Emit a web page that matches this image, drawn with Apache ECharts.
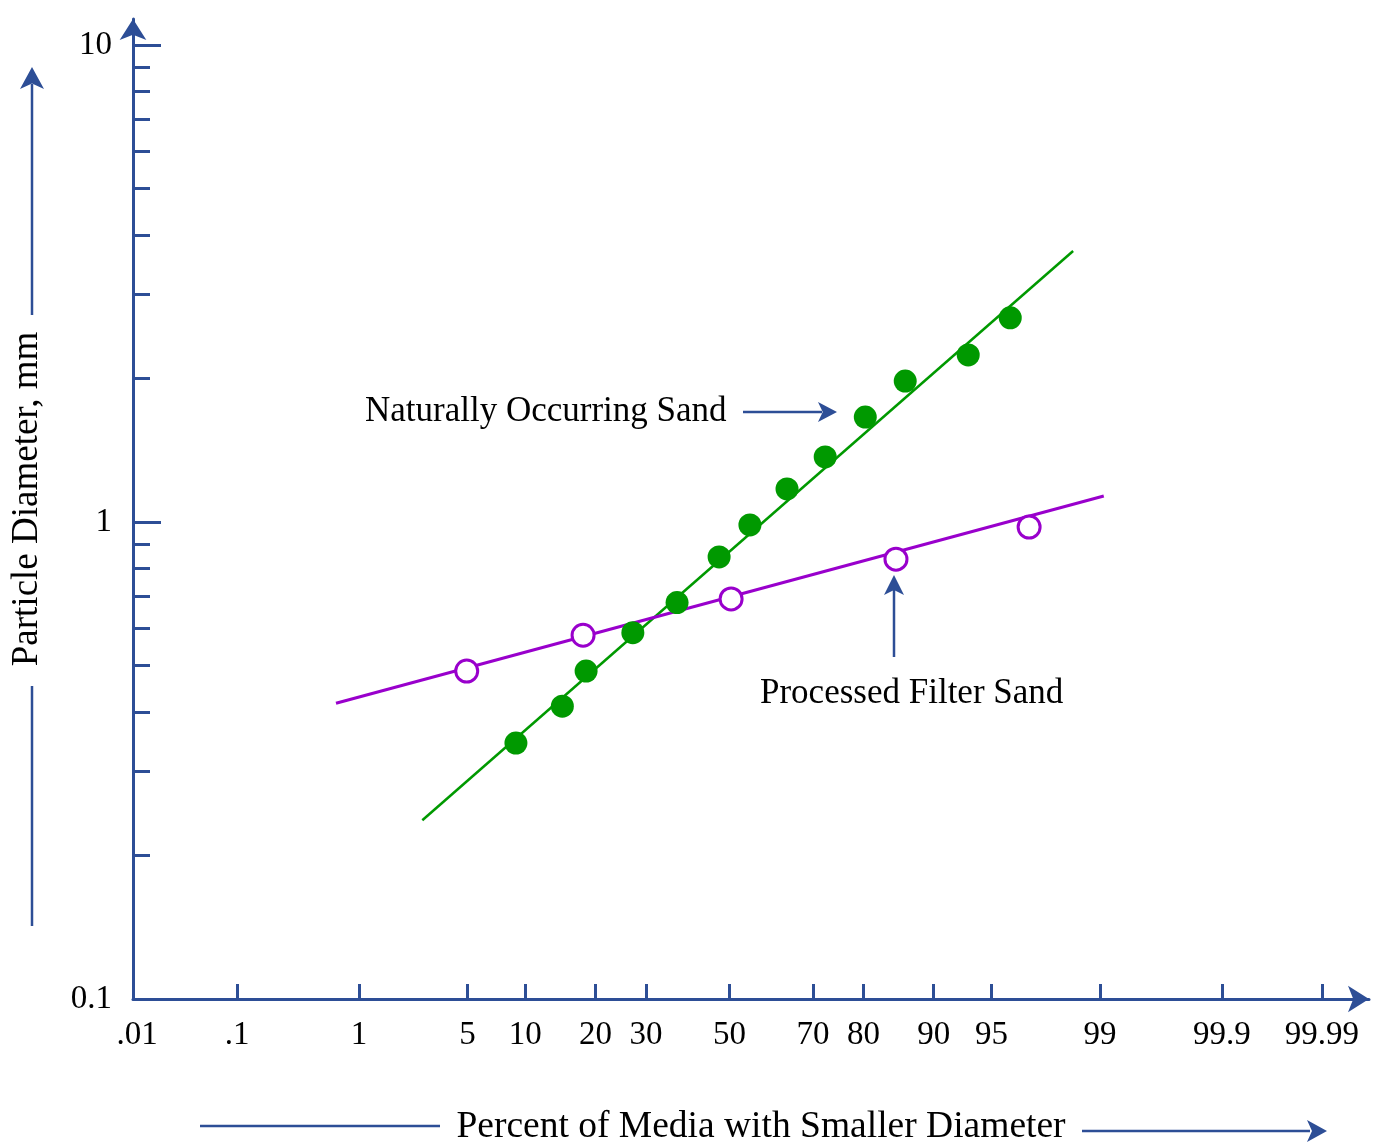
<!DOCTYPE html>
<html><head><meta charset="utf-8">
<script src="https://cdn.jsdelivr.net/npm/echarts@6/dist/echarts.min.js"></script>
<style>html,body{margin:0;padding:0;background:#fff}#c{width:1386px;height:1146px}</style>
</head><body><div id="c"></div>
<script>
// ---- data (percent finer, particle diameter mm) ----
const xTickPercents = [0.1, 1, 5, 10, 20, 30, 50, 70, 80, 90, 95, 99, 99.9, 99.99];
const xLabelPercents = [0.01, 0.1, 1, 5, 10, 20, 30, 50, 70, 80, 90, 95, 99, 99.9, 99.99];
const xLabelTexts = ['.01', '.1', '1', '5', '10', '20', '30', '50', '70', '80', '90', '95', '99', '99.9', '99.99'];
const yMajorTicks = [0.1, 1, 10];
const yMajorLabels = ['0.1', '1', '10'];
const yMinorTicks = [0.2, 0.3, 0.4, 0.5, 0.6, 0.7, 0.8, 0.9, 2, 3, 4, 5, 6, 7, 8, 9];

const naturalPercent = [9.0, 14.7, 18.4, 27.2, 37.1, 47.4, 55.1, 64.1, 72.6, 80.3, 86.5, 93.3, 96.1];
const naturalDiameter = [0.344, 0.411, 0.487, 0.586, 0.678, 0.845, 0.986, 1.173, 1.369, 1.66, 1.975, 2.24, 2.68];
const naturalFitPercent = [2.69, 98.45];
const naturalFitDiameter = [0.237, 3.70];

const filterPercent = [4.95, 17.9, 50.4, 85.2, 97.0];
const filterDiameter = [0.487, 0.579, 0.690, 0.836, 0.976];
const filterFitPercent = [0.675, 99.06];
const filterFitDiameter = [0.417, 1.134];

// ---- normal probability scale transform (inverse normal CDF, Acklam) ----
function probit(p) {
  const a = [-3.969683028665376e+01, 2.209460984245205e+02, -2.759285104469687e+02, 1.383577518672690e+02, -3.066479806614716e+01, 2.506628277459239e+00];
  const b = [-5.447609879822406e+01, 1.615858368580409e+02, -1.556989798598866e+02, 6.680131188771972e+01, -1.328068155288572e+01];
  const c = [-7.784894002430293e-03, -3.223964580411365e-01, -2.400758277161838e+00, -2.549732539343734e+00, 4.374664141464968e+00, 2.938163982698783e+00];
  const d = [7.784695709041462e-03, 3.224671290700398e-01, 2.445134137142996e+00, 3.754408661907416e+00];
  const pl = 0.02425, ph = 1 - pl;
  let q, r;
  if (p < pl) {
    q = Math.sqrt(-2 * Math.log(p));
    return (((((c[0]*q+c[1])*q+c[2])*q+c[3])*q+c[4])*q+c[5]) / ((((d[0]*q+d[1])*q+d[2])*q+d[3])*q+1);
  }
  if (p <= ph) {
    q = p - 0.5; r = q * q;
    return (((((a[0]*r+a[1])*r+a[2])*r+a[3])*r+a[4])*r+a[5])*q / (((((b[0]*r+b[1])*r+b[2])*r+b[3])*r+b[4])*r+1);
  }
  q = Math.sqrt(-2 * Math.log(1 - p));
  return -(((((c[0]*q+c[1])*q+c[2])*q+c[3])*q+c[4])*q+c[5]) / ((((d[0]*q+d[1])*q+d[2])*q+d[3])*q+1);
}
const Z = pct => probit(pct / 100);
const pairs = (ps, ds) => ps.map((p, i) => [Z(p), ds[i]]);

const AX = '#2d4e96';
const GREEN = '#009900';
const PURPLE = '#9900cc';
const FONT = '"Liberation Serif", "Times New Roman", serif';

const xLabelZ = xLabelPercents.map(Z);
function xFmt(v) {
  for (let i = 0; i < xLabelZ.length; i++) if (Math.abs(xLabelZ[i] - v) < 1e-6) return xLabelTexts[i];
  return '';
}
function yFmt(v) {
  for (let i = 0; i < yMajorTicks.length; i++) if (Math.abs(yMajorTicks[i] - v) < 1e-9 * Math.max(1, v)) return yMajorLabels[i];
  return '';
}

function arrowHead(tx, ty, dir, L, W) {
  const N = L * 0.25;
  if (dir === 'right') return [[tx, ty], [tx - L, ty - W], [tx - L + N, ty], [tx - L, ty + W]];
  return [[tx, ty], [tx - W, ty + L], [tx, ty + L - N], [tx + W, ty + L]];
}

const chart = echarts.init(document.getElementById('c'), null, { renderer: 'canvas' });
chart.setOption({
  animation: false,
  backgroundColor: '#ffffff',
  grid: { left: 133, right: 17, top: 19, bottom: 147, containLabel: false },
  xAxis: {
    type: 'value',
    min: -3.7445,
    max: 4.0144,
    axisLine: { show: true, onZero: false, symbol: ['none', 'arrow'], symbolSize: [20, 21], lineStyle: { color: AX, width: 3 } },
    axisTick: { show: true, inside: true, length: 15, lineStyle: { color: AX, width: 3 }, customValues: xTickPercents.map(Z) },
    axisLabel: { show: true, customValues: xLabelZ, formatter: xFmt, color: '#000', fontFamily: FONT, fontSize: 33, margin: 20 },
    splitLine: { show: false }
  },
  yAxis: [
    {
      type: 'log', logBase: 10, min: 0.1, max: 11.34,
      axisLine: { show: true, onZero: false, symbol: ['none', 'arrow'], symbolSize: [20, 21], lineStyle: { color: AX, width: 3 } },
      axisTick: { show: true, inside: true, length: 28, lineStyle: { color: AX, width: 3 }, customValues: yMajorTicks },
      axisLabel: { show: true, customValues: yMajorTicks, formatter: yFmt, color: '#000', fontFamily: FONT, fontSize: 33, margin: 21 },
      splitLine: { show: false }
    },
    {
      type: 'log', logBase: 10, min: 0.1, max: 11.34, position: 'left', offset: 0,
      axisLine: { show: false, onZero: false },
      axisTick: { show: true, inside: true, length: 17, lineStyle: { color: AX, width: 3 }, customValues: yMinorTicks },
      axisLabel: { show: false },
      splitLine: { show: false }
    }
  ],
  series: [
    {
      name: 'Naturally Occurring Sand fit', type: 'line', yAxisIndex: 0,
      data: pairs(naturalFitPercent, naturalFitDiameter),
      symbol: 'none', lineStyle: { color: GREEN, width: 2.5 }, z: 2, silent: true
    },
    {
      name: 'Processed Filter Sand fit', type: 'line', yAxisIndex: 0,
      data: pairs(filterFitPercent, filterFitDiameter),
      symbol: 'none', lineStyle: { color: PURPLE, width: 3 }, z: 2, silent: true
    },
    {
      name: 'Naturally Occurring Sand', type: 'scatter', yAxisIndex: 0,
      data: pairs(naturalPercent, naturalDiameter),
      symbol: 'circle', symbolSize: 23, itemStyle: { color: GREEN, opacity: 1 }, z: 3
    },
    {
      name: 'Processed Filter Sand', type: 'scatter', yAxisIndex: 0,
      data: pairs(filterPercent, filterDiameter),
      symbol: 'circle', symbolSize: 22, itemStyle: { color: '#ffffff', borderColor: PURPLE, borderWidth: 3, opacity: 1 }, z: 3
    }
  ],
  graphic: [
    { type: 'text', left: 365, top: 394, style: { text: 'Naturally Occurring Sand', fill: '#000', font: '35px ' + FONT } },
    { type: 'line', shape: { x1: 743, y1: 412, x2: 822, y2: 412 }, style: { stroke: AX, lineWidth: 2.5 } },
    { type: 'polygon', shape: { points: arrowHead(837, 412, 'right', 19, 10) }, style: { fill: AX } },
    { type: 'text', left: 760, top: 676, style: { text: 'Processed Filter Sand', fill: '#000', font: '35px ' + FONT } },
    { type: 'line', shape: { x1: 894, y1: 657, x2: 894, y2: 590 }, style: { stroke: AX, lineWidth: 2.5 } },
    { type: 'polygon', shape: { points: arrowHead(894, 575, 'up', 20, 10) }, style: { fill: AX } },
    { type: 'text', x: 27, y: 499, rotation: Math.PI / 2, style: { text: 'Particle Diameter, mm', fill: '#000', font: '37px ' + FONT, textAlign: 'center', textVerticalAlign: 'middle' } },
    { type: 'line', shape: { x1: 32, y1: 926, x2: 32, y2: 686 }, style: { stroke: AX, lineWidth: 2.5 } },
    { type: 'line', shape: { x1: 32, y1: 315, x2: 32, y2: 84 }, style: { stroke: AX, lineWidth: 2.5 } },
    { type: 'polygon', shape: { points: arrowHead(32, 67, 'up', 22, 12) }, style: { fill: AX } },
    { type: 'text', x: 761, y: 1127, style: { text: 'Percent of Media with Smaller Diameter', fill: '#000', font: '37.5px ' + FONT, textAlign: 'center', textVerticalAlign: 'middle' } },
    { type: 'line', shape: { x1: 200, y1: 1126, x2: 440, y2: 1126 }, style: { stroke: AX, lineWidth: 2.5 } },
    { type: 'line', shape: { x1: 1082, y1: 1131, x2: 1310, y2: 1131 }, style: { stroke: AX, lineWidth: 2.5 } },
    { type: 'polygon', shape: { points: arrowHead(1327, 1131, 'right', 20, 11) }, style: { fill: AX } }
  ]
});
</script>
</body></html>
